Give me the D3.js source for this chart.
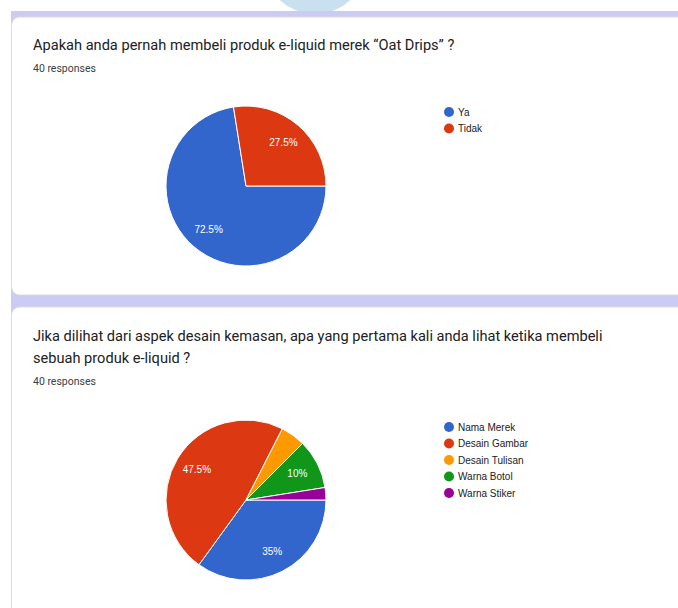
<!DOCTYPE html>
<html>
<head>
<meta charset="utf-8">
<script src="https://cdn.jsdelivr.net/npm/d3@7"></script>
<style>
  body { margin: 0; background: #fff; }
  svg { display: block; }
  .title { font-family: Roboto, "Noto Sans", sans-serif; font-size: 14.6px; fill: #202124; }
  .resp { font-family: Roboto, "Noto Sans", sans-serif; font-size: 10.5px; fill: #3c4043; }
  .legend-text { font-family: "Liberation Sans", Arial, sans-serif; font-size: 10px; fill: #222; }
  .slice-label { font-family: "Liberation Sans", Arial, sans-serif; font-size: 10px; fill: #fff; }
</style>
</head>
<body>
<svg id="mainCanvas" width="678" height="608"></svg>
<script>
var q1Labels = ['Ya', 'Tidak'];
var q1Values = [29, 11];

var q2Labels = ['Nama Merek', 'Desain Gambar', 'Desain Tulisan', 'Warna Botol', 'Warna Stiker'];
var q2Values = [14, 19, 2, 4, 1];

var sliceColors = ['#3366cc', '#dc3912', '#ff9900', '#109618', '#990099'];

var width = 678;
var height = 608;
var radius = 80;

var svg = d3.select('#mainCanvas');

// page furniture: blue blob at top, purple strips between cards
svg.append('circle')
   .attr('cx', 315).attr('cy', -38).attr('r', 52)
   .attr('fill', '#c9e1ef');

svg.append('rect')
   .attr('x', 11).attr('y', 11).attr('width', width).attr('height', 300)
   .attr('fill', '#cbcbf5');
svg.append('rect')
   .attr('x', 11).attr('y', 295).attr('width', width).attr('height', 30)
   .attr('fill', '#cbcbf5');

svg.append('rect')
   .attr('x', 11.5).attr('y', 17).attr('width', 700).attr('height', 278)
   .attr('rx', 8)
   .attr('fill', '#fff').attr('stroke', '#dadce0');
svg.append('rect')
   .attr('x', 11.5).attr('y', 307).attr('width', 700).attr('height', 330)
   .attr('rx', 8)
   .attr('fill', '#fff').attr('stroke', '#dadce0');

var drawCard = function(opts) {
    var g = svg.append('g');

    g.selectAll('.title')
     .data(opts.title)
     .enter()
     .append('text')
     .attr('class', 'title')
     .attr('x', 33)
     .attr('y', function(d, i) { return opts.titleY + i * 22; })
     .text(function(d) { return d; });

    g.append('text')
     .attr('class', 'resp')
     .attr('x', 33)
     .attr('y', opts.titleY + opts.title.length * 22)
     .text('40 responses');

    var total = d3.sum(opts.values);
    var color = d3.scaleOrdinal().domain(opts.labels).range(sliceColors);

    var pie = d3.pie()
        .sort(null)
        .value(function(d) { return d.value; })
        .startAngle(Math.PI / 2)
        .endAngle(Math.PI / 2 + 2 * Math.PI);

    var rows = opts.labels.map(function(l, i) { return { label: l, value: opts.values[i] }; });
    var arcs = pie(rows);

    var arc = d3.arc().innerRadius(0).outerRadius(radius);
    var labelArc = d3.arc().innerRadius(radius * 0.72).outerRadius(radius * 0.72);

    var pieG = g.append('g')
        .attr('transform', 'translate(' + opts.cx + ' ' + opts.cy + ')');

    pieG.selectAll('path')
        .data(arcs)
        .enter()
        .append('path')
        .attr('d', arc)
        .attr('fill', function(d) { return color(d.data.label); })
        .attr('stroke', '#fff')
        .attr('stroke-width', 1);

    pieG.selectAll('.slice-label')
        .data(arcs.filter(function(d) { return d.data.value / total >= 0.075; }))
        .enter()
        .append('text')
        .attr('class', 'slice-label')
        .attr('text-anchor', 'middle')
        .attr('dominant-baseline', 'central')
        .attr('transform', function(d) { return 'translate(' + labelArc.centroid(d) + ')'; })
        .text(function(d) { return d3.format('.3~')(d.data.value / total * 100) + '%'; });

    var legend = g.selectAll('.legend')
        .data(opts.labels)
        .enter()
        .append('g')
        .attr('class', 'legend')
        .attr('transform', function(d, i) {
            return 'translate(449 ' + (opts.legendY + i * 16.5) + ')';
        });

    legend.append('circle')
          .attr('r', 5)
          .attr('fill', function(d) { return color(d); });

    legend.append('text')
          .attr('class', 'legend-text')
          .attr('x', 9)
          .attr('dy', '0.35em')
          .text(function(d) { return d; });
};

drawCard({
    title: ['Apakah anda pernah membeli produk e-liquid merek \u201cOat Drips\u201d ?'],
    titleY: 50,
    labels: q1Labels,
    values: q1Values,
    cx: 246, cy: 186,
    legendY: 112
});

drawCard({
    title: ['Jika dilihat dari aspek desain kemasan, apa yang pertama kali anda lihat ketika membeli',
            'sebuah produk e-liquid ?'],
    titleY: 341,
    labels: q2Labels,
    values: q2Values,
    cx: 246, cy: 500,
    legendY: 427
});
</script>
</body>
</html>
